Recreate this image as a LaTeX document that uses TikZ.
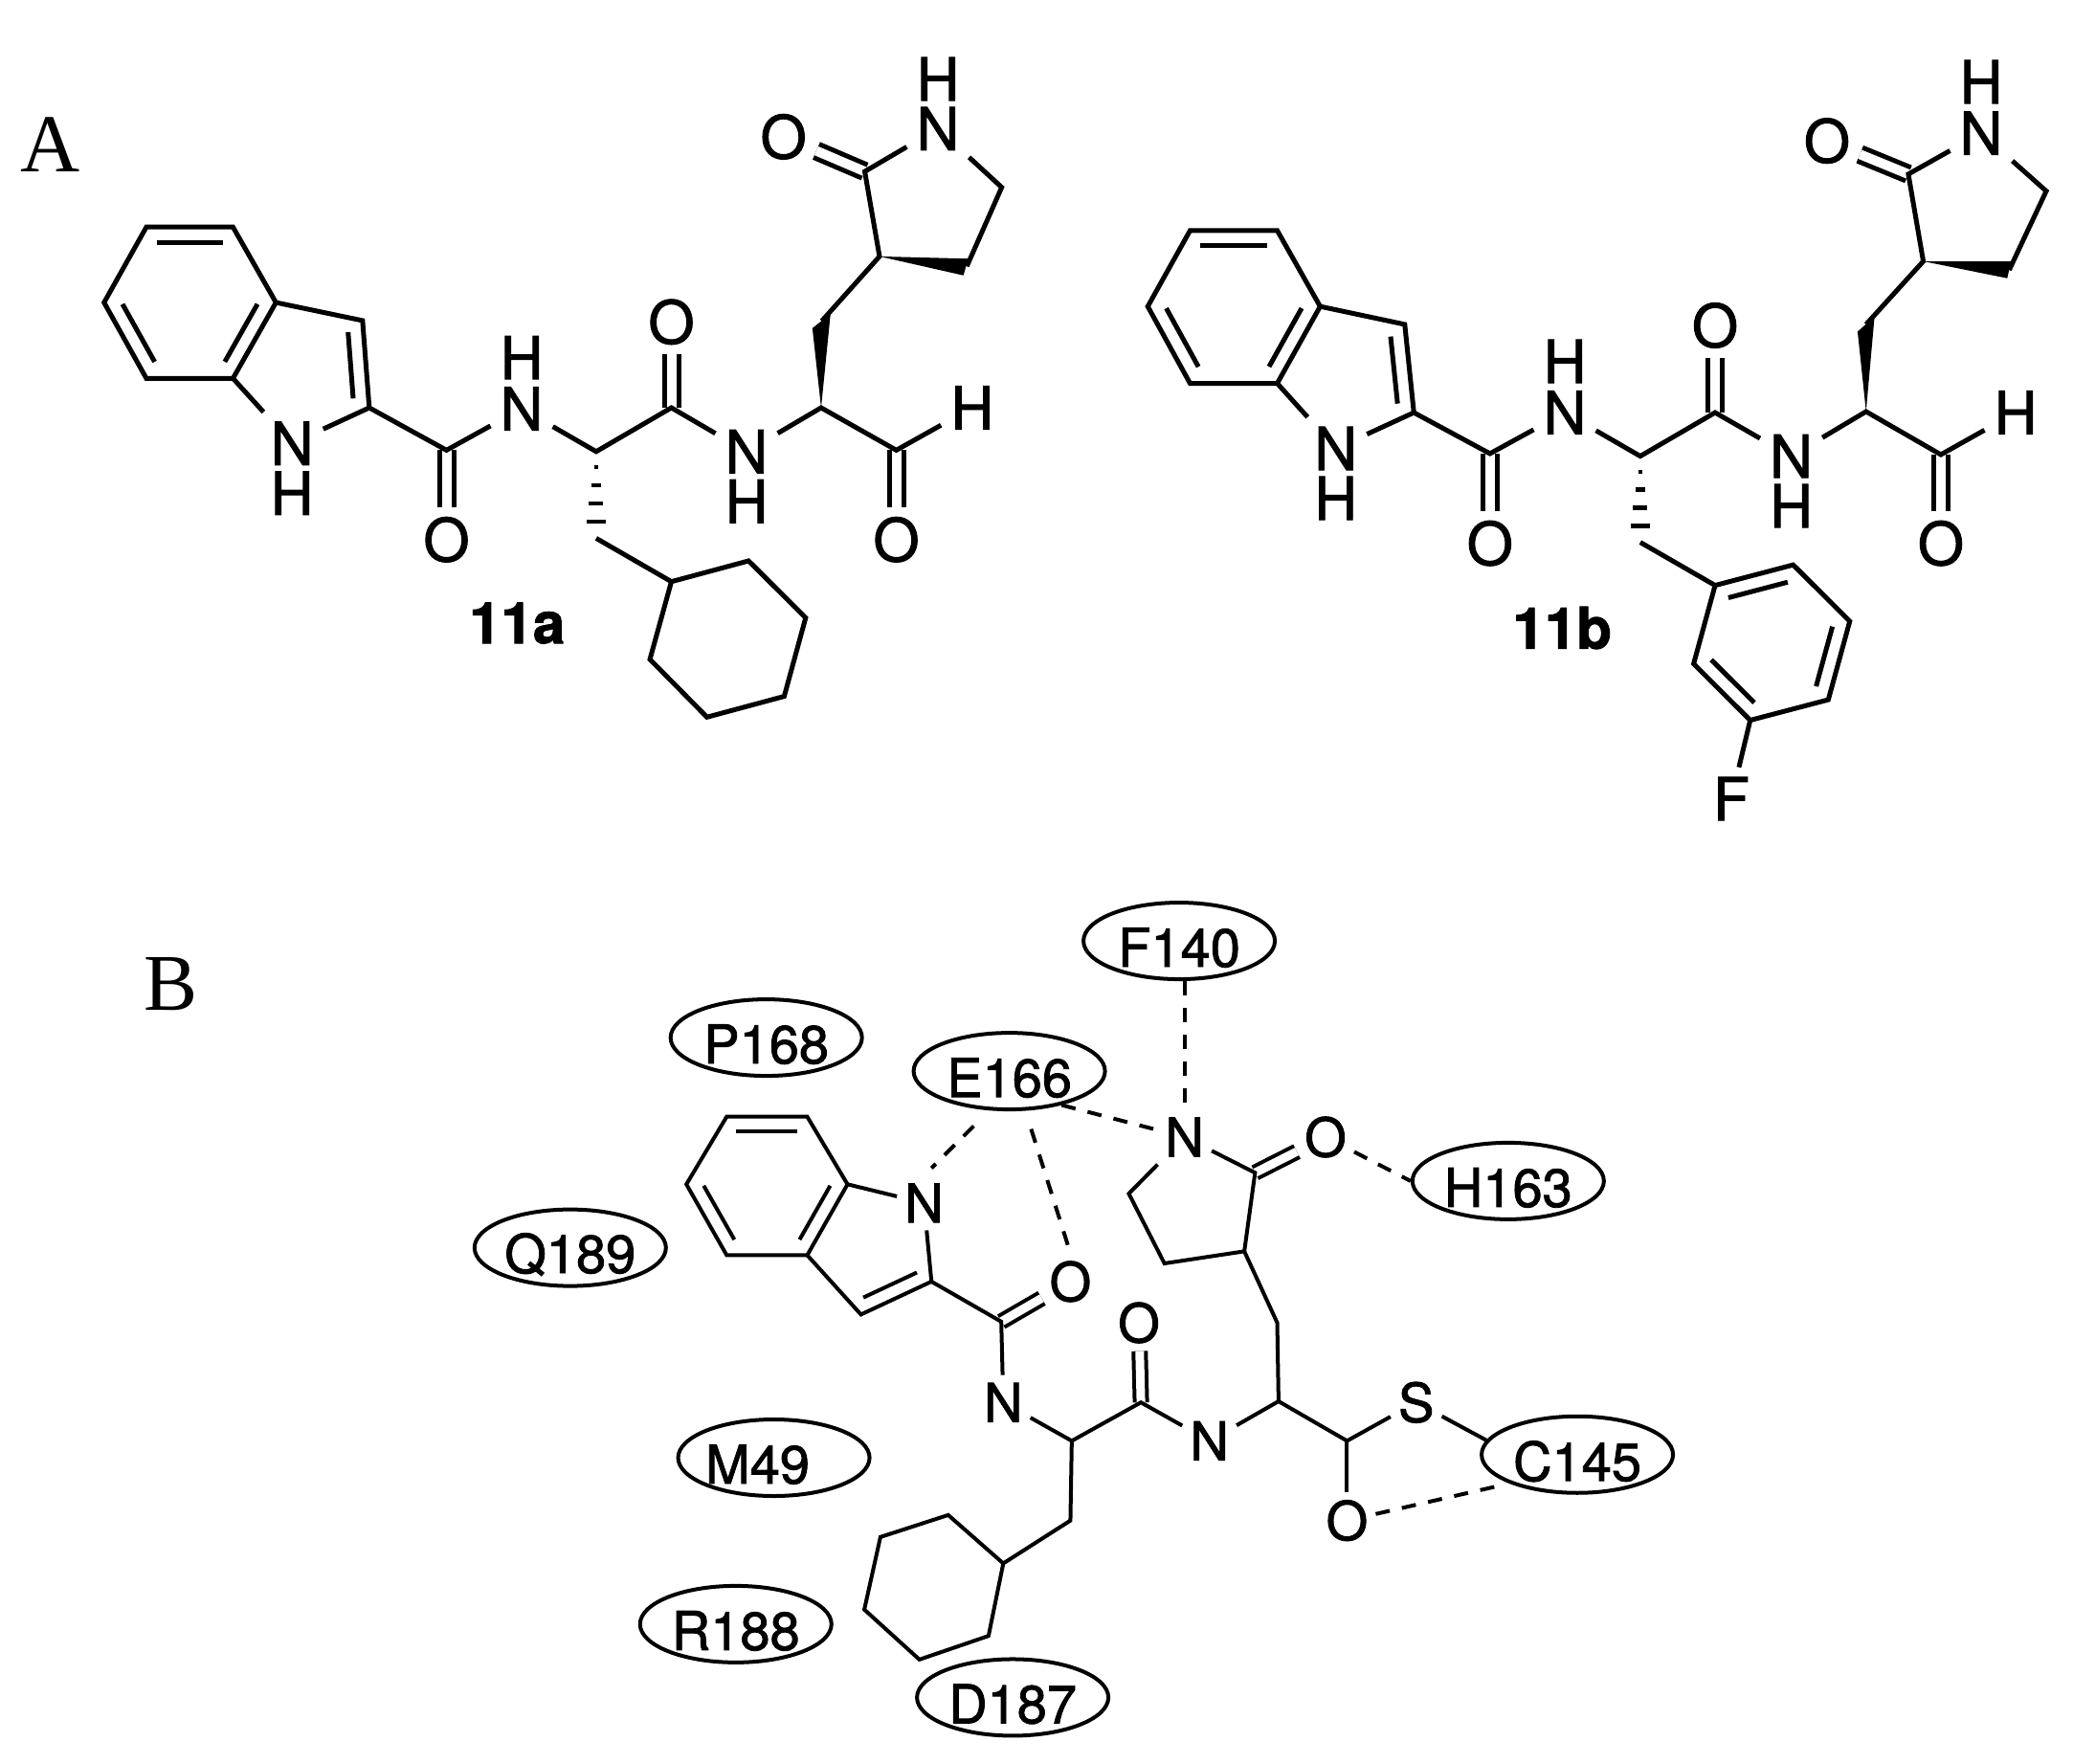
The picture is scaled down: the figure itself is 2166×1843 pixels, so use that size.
\documentclass[tikz,border=0pt]{standalone}
\usepackage{fontspec}
\setmainfont[RawFeature={embolden=1.5}]{TeX Gyre Heros}
\newfontfamily\timesf{Liberation Serif}
\usetikzlibrary{calc,shapes.geometric}
\tikzset{
  Zone/.style={shift={(0,40)},x=0.7015pt,y=-0.4719pt},
  Ztwo/.style={shift={(1100,40)},x=0.6798pt,y=-0.5357pt},
  Zthree/.style={shift={(680,940)},x=0.7015pt,y=-0.574pt},
  Zfour/.style={shift={(130,980)},x=0.5102pt,y=-0.5485pt},
  bond/.style={line width=5pt,line join=miter,black},
  thinbond/.style={line width=4pt,line join=miter,black},
  dblb/.style={bond,double,double distance=10pt},
  thindbl/.style={thinbond,double,double distance=9pt},
  hbond/.style={line width=4pt,dash pattern=on 15pt off 13pt,black},
  atom/.style={inner sep=10pt,font=\fontsize{62pt}{62pt}\selectfont},
  satom/.style={inner sep=8pt,font=\fontsize{56pt}{56pt}\selectfont},
  cname/.style={inner sep=0pt,font=\fontsize{60pt}{60pt}\selectfont\bfseries},
  panel/.style={inner sep=0pt,font=\fontsize{86pt}{86pt}\selectfont\timesf},
  resi/.style={ellipse,draw,line width=4pt,minimum width=200pt,minimum height=80pt,inner sep=0pt,
    label={[inner sep=0pt,yshift=-7pt,font=\fontsize{56pt}{56pt}\selectfont]center:#1}},
  resishift/.style={ellipse,draw,line width=4pt,minimum width=200pt,minimum height=80pt,inner sep=0pt,
    label={[inner sep=0pt,yshift=-7pt,xshift=-17pt,font=\fontsize{56pt}{56pt}\selectfont]center:#1}},
}
\newcommand\inb[4][bond]{\draw[#1] ($(#2)!.12!(#3)!#4pt!90:(#3)$) -- ($(#3)!.12!(#2)!#4pt!-90:(#2)$);}
\newcommand\backbone[1]{
  \draw[dblb] (#1c1) -- (#1O1);
  \draw[dblb] (#1c3) -- (#1O2);
  \draw[dblb] (#1c5) -- (#1O3);
  \draw[dblb] (#1c9) -- (#1O4);
  \draw[bond] (#1r1) -- (#1r2) -- (#1r3) -- (#1r4) -- (#1r5) -- (#1r6) -- cycle;
  \draw[bond] (#1r3) -- (#1b1) -- (#1b2) -- (#1N1);
  \draw[bond] (#1r4) -- (#1N1);
  \inb{#1r2}{#1r1}{16}
  \inb{#1r4}{#1r3}{16}
  \inb{#1r6}{#1r5}{16}
  \inb{#1b2}{#1b1}{16}
  \draw[bond] (#1b2) -- (#1c1) -- (#1N2) -- (#1c2) -- (#1c3) -- (#1N3) -- (#1c4) -- (#1c5) -- (#1H4);
  \fill (#1c4) -- (#1w1) -- (#1w2) -- cycle;
  \fill (#1c7) -- (#1v1) -- (#1v2) -- cycle;
  \draw[bond] (#1c6) -- (#1c7) -- (#1c9) -- (#1N4) -- (#1c10) -- (#1c8);
  \foreach \f/\w in {.18/2,.39/5,.6/7.5,.81/10}
    \draw[line width=4.5pt] ($(#1c2)!\f!(#1c11)+(-\w pt,0)$) -- ($(#1c2)!\f!(#1c11)+(\w pt,0)$);
  \draw[bond] (#1c11) -- (#1c12);
}
\begin{document}
\begin{tikzpicture}[x=1pt,y=-1pt]
\fill[white] (0,0) rectangle (2166,1843);
\useasboundingbox (0,0) rectangle (2166,1843);

% ---------- 11a ----------
\begin{scope}[Zone]
  \node[panel] (labelA) at (75,235) {A};
  \node[cname] (name11a) at (770,1295) {11a};
  \foreach \n/\x/\y in {r1/218/418,r2/347/418,r3/411/585,r4/347/753,r5/218/753,r6/155/585,
    b1/540/625,b2/550/818,c1/665/912,c2/888/915,c3/1000/818,c4/1223/818,c5/1335/912,
    c6/1224/626,c7/1310/483,c8/1440/505,c9/1288/295,c10/1492/330,c11/888/1107,c12/1000/1203,
    w1/1210/642,w2/1237/610,v1/1442/488,v2/1435/525,
    h2/1115/1157,h3/1200/1283,h4/1168/1457,h5/1053/1503,h6/968/1375}
    \coordinate (a\n) at (\x,\y);
  \node[atom] (aN1) at (435,897) {N};
  \node[atom] (aH1) at (435,1007) {H};
  \node[atom] (aO1) at (665,1110) {O};
  \node[atom] (aN2) at (777,820) {N};
  \node[atom] (aH2) at (777,707) {H};
  \node[atom] (aO2) at (1000,628) {O};
  \node[atom] (aN3) at (1112,915) {N};
  \node[atom] (aH3) at (1112,1025) {H};
  \node[atom] (aH4) at (1448,818) {H};
  \node[atom] (aO3) at (1335,1110) {O};
  \node[atom] (aN4) at (1397,200) {N};
  \node[atom] (aH5) at (1397,90) {H};
  \node[atom] (aO4) at (1167,218) {O};
\end{scope}
\backbone{a}
\draw[bond] (ac12) -- (ah2) -- (ah3) -- (ah4) -- (ah5) -- (ah6) -- cycle;

% ---------- 11b ----------
\begin{scope}[Ztwo]
  \node[cname] (name11b) at (783,1150) {11b};
  \foreach \n/\x/\y in {r1/211/375,r2/345/375,r3/411/523,r4/345/673,r5/211/673,r6/146/523,
    b1/541/558,b2/555/730,c1/672/810,c2/903/815,c3/1018/730,c4/1250/728,c5/1365/812,
    c6/1250/558,c7/1338/435,c8/1470/452,c9/1315/265,c10/1527/298,c11/903/983,c12/1018/1067,
    w1/1237/572,w2/1263/543,v1/1473/435,v2/1467/468,
    h2/1138/1027,h3/1225/1137,h4/1192/1290,h5/1072/1330,h6/985/1220}
    \coordinate (b\n) at (\x,\y);
  \node[atom] (bN1) at (435,800) {N};
  \node[atom] (bH1) at (435,897) {H};
  \node[atom] (bO1) at (672,985) {O};
  \node[atom] (bN2) at (787,730) {N};
  \node[atom] (bH2) at (787,630) {H};
  \node[atom] (bO2) at (1018,560) {O};
  \node[atom] (bN3) at (1135,815) {N};
  \node[atom] (bH3) at (1135,912) {H};
  \node[atom] (bH4) at (1480,730) {H};
  \node[atom] (bO3) at (1365,985) {O};
  \node[atom] (bN4) at (1427,185) {N};
  \node[atom] (bH5) at (1427,85) {H};
  \node[atom] (bO4) at (1190,200) {O};
  \node[atom] (bF) at (1043,1483) {F};
\end{scope}
\backbone{b}
\draw[bond] (bc12) -- (bh2) -- (bh3) -- (bh4) -- (bh5) -- (bh6) -- cycle;
\inb{bh2}{bc12}{16}
\inb{bh4}{bh3}{16}
\inb{bh6}{bh5}{16}
\draw[bond] (bh5) -- (bF);

% ---------- panel B ----------
\begin{scope}[Zfour]
  \node[panel,font=\fontsize{84pt}{84pt}\selectfont\timesf] (labelB) at (95,87) {B};
  \node[resi=Q189] (Q189) at (913,590) {};
  \node[resishift=M49] (M49) at (1330,990) {};
  \node[resi=R188] (R188) at (1252,1307) {};
\end{scope}
\begin{scope}[Zthree]
  \foreach \n/\x/\y in {r1/113/395,r2/233/395,r3/293/518,r4/233/647,r5/113/647,r6/53/518,
    q1/313/755,q2/418/695,c1/522/768,c2/627/985,c3/730/915,c4/935/913,c5/1037/985,
    c6/933/770,c7/884/640,c8/900/497,c9/712/535,c10/765/662,c11/625/1130,c12/525/1208,
    h2/443/1120,h3/342/1160,h4/318/1292,h5/400/1383,h6/503/1340}
    \coordinate (p\n) at (\x,\y);
  \node[resi=F140] (F140) at (787,75) {};
  \node[resi=E166] (E166) at (534,312) {};
  \node[resi=H163] (H163) at (1277,512) {};
  \node[resi=C145] (C145) at (1380,1010) {};
  \node[resi=P168] (P168) at (172,251) {};
  \node[resi=D187] (D187) at (539,1452) {};
  \node[satom] (pN1) at (407,552) {N};
  \node[satom] (pO1) at (625,695) {O};
  \node[satom] (pN2) at (525,915) {N};
  \node[satom] (pO2) at (727,770) {O};
  \node[satom] (pN3) at (832,985) {N};
  \node[satom] (pN4) at (795,432) {N};
  \node[satom] (pO3) at (1005,432) {O};
  \node[satom] (pS) at (1140,915) {S};
  \node[satom] (pO4) at (1037,1130) {O};
\end{scope}
\draw[thindbl] (pc1) -- (pO1);
\draw[thindbl] (pc3) -- (pO2);
\draw[thindbl] (pc8) -- (pO3);
\draw[thinbond] (pr1) -- (pr2) -- (pr3) -- (pr4) -- (pr5) -- (pr6) -- cycle;
\inb[thinbond]{pr2}{pr1}{15}
\inb[thinbond]{pr4}{pr3}{15}
\inb[thinbond]{pr6}{pr5}{15}
\inb[thinbond]{pq1}{pq2}{15}
\draw[thinbond] (pr3) -- (pN1) -- (pq2) -- (pq1) -- (pr4);
\draw[thinbond] (pq2) -- (pc1) -- (pN2) -- (pc2) -- (pc3) -- (pN3) -- (pc4) -- (pc5) -- (pS) -- (C145.171);
\draw[thinbond] (pc5) -- (pO4);
\draw[thinbond] (pc4) -- (pc6) -- (pc7) -- (pc8) -- (pN4) -- (pc9) -- (pc10) -- (pc7);
\draw[thinbond] (pc2) -- (pc11) -- (pc12) -- (ph2) -- (ph3) -- (ph4) -- (ph5) -- (ph6) -- (pc12);
\draw[hbond] (F140.south -| pN4.north) -- (pN4.north);
\draw[hbond,shorten <=23pt,shorten >=11pt] (E166.-117) -- (pN1.north);
\draw[hbond,shorten <=20pt,shorten >=8pt] (E166.-68) -- (pO1.north);
\draw[hbond] (E166.-33) -- (pN4);
\draw[hbond] (pO3) -- (H163.west);
\draw[hbond,shorten >=8pt] (pO4) -- (C145.203.5);
\end{tikzpicture}
\end{document}
